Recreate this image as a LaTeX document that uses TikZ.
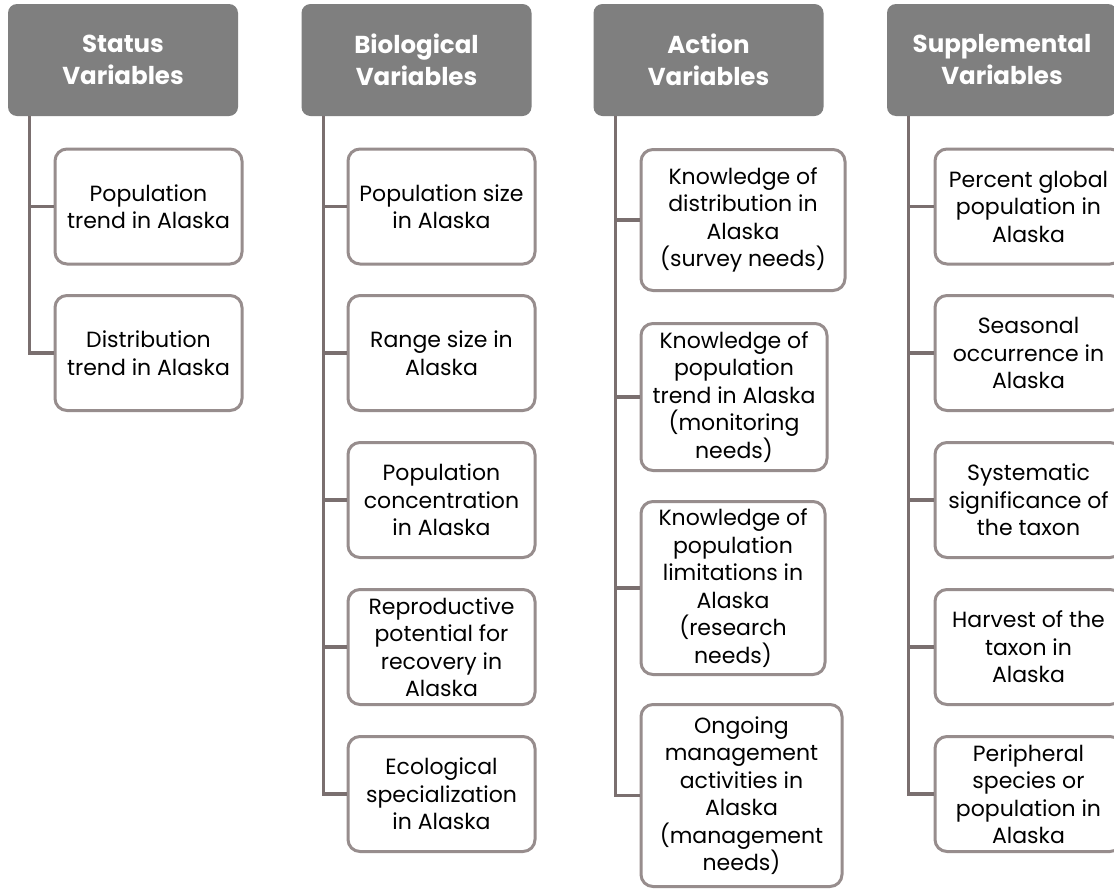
\documentclass[tikz,border=0pt]{standalone}
\usepackage{fontspec}
\setmainfont{Poppins}
\usetikzlibrary{positioning}

\definecolor{hdrgray}{HTML}{7F7F7F}
\definecolor{boxline}{HTML}{978D8D}
\definecolor{linkline}{HTML}{7A6F6F}

\begin{document}
\begin{tikzpicture}[
  x=1pt, y=-1pt,
  hdr/.style={rectangle, rounded corners=9pt, fill=hdrgray, text=white, font=\bfseries\fontsize{24.5}{32}\selectfont, minimum width=230pt, minimum height=112pt, align=center, inner sep=0pt},
  item/.style={rectangle, rounded corners=12pt, draw=boxline, line width=3pt, fill=white, font=\fontsize{22}{27.5}\selectfont, minimum width=187pt, minimum height=115pt, align=center, inner sep=0pt, anchor=west},
  link/.style={draw=linkline, line width=3.2pt}
]
\clip (0,0) rectangle (1114,892);
\fill[white] (0,0) rectangle (1114,892);

% headers
\node[hdr] (stat) at (123,60)    {Status\\Variables};
\node[hdr] (bio)  at (416.5,60)  {Biological\\Variables};
\node[hdr] (act)  at (708.5,60)  {Action\\Variables};
\node[hdr] (supp) at (1002,60)   {Supplemental\\Variables};

% top ends of the connectors
\foreach \p/\c in {stat/stat1, stat/stat2,
                   bio/bio1, bio/bio2, bio/bio3, bio/bio4, bio/bio5,
                   act/act1, act/act2, act/act3, act/act4,
                   supp/supp1, supp/supp2, supp/supp3, supp/supp4, supp/supp5}
  \path (\p.south west) ++(22,0) coordinate (\c-top);

% status
\node[item] (stat1) at (53.5,206.5) {Population\\trend in Alaska};
\node[item] (stat2) at (53.5,353)   {Distribution\\trend in Alaska};

% biological
\node[item] (bio1) at (346.5,206.5) {Population size\\in Alaska};
\node[item] (bio2) at (346.5,353)   {Range size in\\Alaska};
\node[item] (bio3) at (346.5,500)   {Population\\concentration\\in Alaska};
\node[item] (bio4) at (346.5,647)   {Reproductive\\potential for\\recovery in\\Alaska};
\node[item] (bio5) at (346.5,794)   {Ecological\\specialization\\in Alaska};

% action
\node[item, minimum width=204pt, minimum height=141pt] (act1) at (639.5,220)   {Knowledge of\\distribution in\\Alaska\\(survey needs)};
\node[item, minimum width=186pt, minimum height=147pt] (act2) at (639.5,397)   {Knowledge of\\population\\trend in Alaska\\(monitoring\\needs)};
\node[item, minimum width=184pt, minimum height=173pt] (act3) at (639.5,588)   {Knowledge of\\population\\limitations in\\Alaska\\(research\\needs)};
\node[item, minimum width=201pt, minimum height=182pt] (act4) at (639.5,795.5) {Ongoing\\management\\activities in\\Alaska\\(management\\needs)};

% supplemental
\node[item] (supp1) at (933.5,206.5) {Percent global\\population in\\Alaska};
\node[item] (supp2) at (933.5,353)   {Seasonal\\occurrence in\\Alaska};
\node[item] (supp3) at (933.5,500)   {Systematic\\significance of\\the taxon};
\node[item] (supp4) at (933.5,647)   {Harvest of the\\taxon in\\Alaska};
\node[item] (supp5) at (933.5,794)   {Peripheral\\species or\\population in\\Alaska};

\foreach \c in {stat1,stat2,bio1,bio2,bio3,bio4,bio5,act1,act2,act3,act4,supp1,supp2,supp3,supp4,supp5}
  \draw[link] (\c-top) |- (\c.west);
\end{tikzpicture}
\end{document}
